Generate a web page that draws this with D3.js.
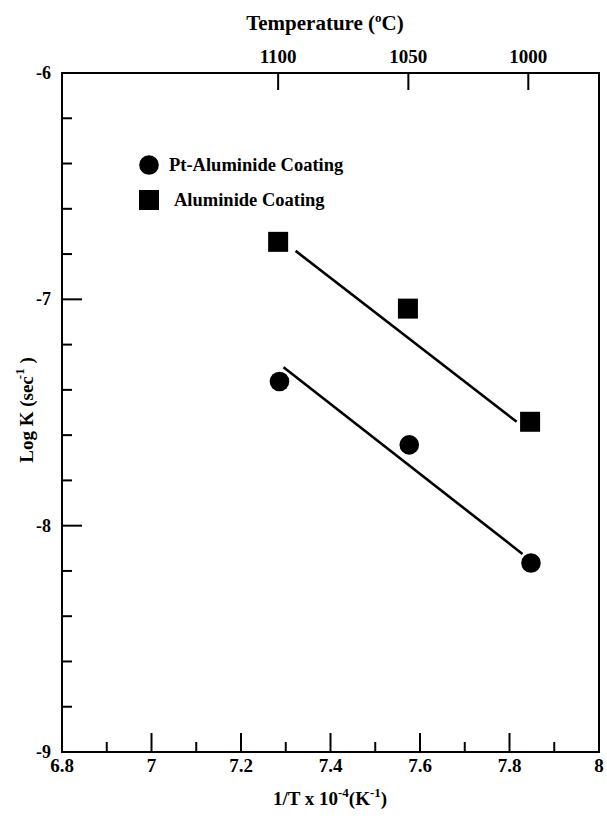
<!DOCTYPE html>
<html><head><meta charset="utf-8">
<script src="https://cdn.jsdelivr.net/npm/d3@7"></script>
<style>
body{margin:0;background:#fff;}
text{font-family:"Liberation Serif","Times New Roman",serif;font-weight:bold;fill:#000;}
</style></head>
<body><div id="chart"></div>
<script>
// Data
const ptX = [7.286, 7.576, 7.848];
const ptY = [-7.363, -7.643, -8.165];
const alX = [7.283, 7.573, 7.846];
const alY = [-6.746, -7.041, -7.541];
// fitted lines (endpoints as drawn)
const ptFitX = [7.295, 7.829];
const ptFitY = [-7.300, -8.125];
const alFitX = [7.322, 7.816];
const alFitY = [-6.786, -7.541];
// axis ticks
const xMajor = [6.8, 7, 7.2, 7.4, 7.6, 7.8, 8];
const xMinor = [6.9, 7.1, 7.3, 7.5, 7.7, 7.9];
const yMajor = [-6, -7, -8, -9];
const yMinor = [-6.2,-6.4,-6.6,-6.8,-7.2,-7.4,-7.6,-7.8,-8.2,-8.4,-8.6,-8.8];
const topTickPos = [7.283, 7.574, 7.842];
const topTickLabels = ["1100", "1050", "1000"];
const legendLabels = ["Pt-Aluminide Coating", "Aluminide Coating"];

const W = 607, H = 816;
const svg = d3.select("#chart").append("svg").attr("width", W).attr("height", H);

const x = d3.scaleLinear().domain([6.8, 8]).range([62, 599]);
const y = d3.scaleLinear().domain([-9, -6]).range([752, 73]);

// frame
svg.append("rect").attr("x", x(6.8)).attr("y", y(-6))
  .attr("width", x(8) - x(6.8)).attr("height", y(-9) - y(-6))
  .attr("fill", "none").attr("stroke", "#000").attr("stroke-width", 2);

// bottom ticks
const g = svg.append("g").attr("stroke", "#000").attr("stroke-width", 2);
g.selectAll(".xmaj").data(xMajor.slice(1, -1)).join("line")
  .attr("x1", d => x(d)).attr("x2", d => x(d)).attr("y1", y(-9)).attr("y2", y(-9) - 19);
g.selectAll(".xmin").data(xMinor).join("line")
  .attr("x1", d => x(d)).attr("x2", d => x(d)).attr("y1", y(-9)).attr("y2", y(-9) - 10);
// left ticks
g.selectAll(".ymaj").data(yMajor.slice(1, -1)).join("line")
  .attr("x1", x(6.8)).attr("x2", x(6.8) + 20).attr("y1", d => y(d)).attr("y2", d => y(d));
g.selectAll(".ymin").data(yMinor).join("line")
  .attr("x1", x(6.8)).attr("x2", x(6.8) + 10).attr("y1", d => y(d)).attr("y2", d => y(d));
// top ticks
g.selectAll(".ttop").data(topTickPos).join("line")
  .attr("x1", d => x(d)).attr("x2", d => x(d)).attr("y1", y(-6)).attr("y2", y(-6) + 17);

// tick labels
svg.selectAll(".xl").data(xMajor).join("text")
  .attr("x", d => x(d)).attr("y", y(-9) + 20).attr("text-anchor", "middle")
  .attr("font-size", 19).text(d => d3.format("")(d));
svg.selectAll(".yl").data(yMajor).join("text")
  .attr("x", x(6.8) - 11).attr("y", d => y(d) + 6).attr("text-anchor", "end")
  .attr("font-size", 18).text(d => d);
svg.selectAll(".tl").data(topTickPos).join("text")
  .attr("x", d => x(d)).attr("y", y(-6) - 10).attr("text-anchor", "middle")
  .attr("font-size", 19).text((d, i) => topTickLabels[i]);

// titles
const t1 = svg.append("text").attr("x", 325).attr("y", 30).attr("text-anchor", "middle").attr("font-size", 21);
t1.append("tspan").text("Temperature (");
t1.append("tspan").attr("dy", -8).attr("font-size", 13).text("o");
t1.append("tspan").attr("dy", 8).text("C)");

const t2 = svg.append("text").attr("x", 330).attr("y", 805).attr("text-anchor", "middle").attr("font-size", 19);
t2.append("tspan").text("1/T x 10");
t2.append("tspan").attr("dy", -8).attr("font-size", 13).text("-4");
t2.append("tspan").attr("dy", 8).text("(K");
t2.append("tspan").attr("dy", -8).attr("font-size", 13).text("-1");
t2.append("tspan").attr("dy", 8).text(")");

const t3 = svg.append("text").attr("transform", "translate(33,410) rotate(-90)")
  .attr("text-anchor", "middle").attr("font-size", 19);
t3.append("tspan").text("Log K (sec");
t3.append("tspan").attr("dy", -9).attr("dx", -3).attr("font-size", 13).text("-1");
t3.append("tspan").attr("dy", 9).text("  )");

// fit lines
const line = d3.line().x(d => x(d[0])).y(d => y(d[1]));
svg.append("path").datum(d3.zip(ptFitX, ptFitY)).attr("d", line)
  .attr("stroke", "#000").attr("stroke-width", 2.6).attr("fill", "none");
svg.append("path").datum(d3.zip(alFitX, alFitY)).attr("d", line)
  .attr("stroke", "#000").attr("stroke-width", 2.6).attr("fill", "none");

// markers
svg.selectAll(".pt").data(d3.zip(ptX, ptY)).join("circle")
  .attr("cx", d => x(d[0])).attr("cy", d => y(d[1])).attr("r", 9.8).attr("fill", "#000");
svg.selectAll(".al").data(d3.zip(alX, alY)).join("rect")
  .attr("x", d => x(d[0]) - 10).attr("y", d => y(d[1]) - 10)
  .attr("width", 20).attr("height", 20).attr("fill", "#000");

// legend
svg.append("circle").attr("cx", 149).attr("cy", 165).attr("r", 9.8).attr("fill", "#000");
svg.append("text").attr("x", 169).attr("y", 171).attr("font-size", 18.5).text(legendLabels[0]);
svg.append("rect").attr("x", 139).attr("y", 190).attr("width", 20).attr("height", 20).attr("fill", "#000");
svg.append("text").attr("x", 174).attr("y", 206).attr("font-size", 18.5).text(legendLabels[1]);
</script></body></html>
